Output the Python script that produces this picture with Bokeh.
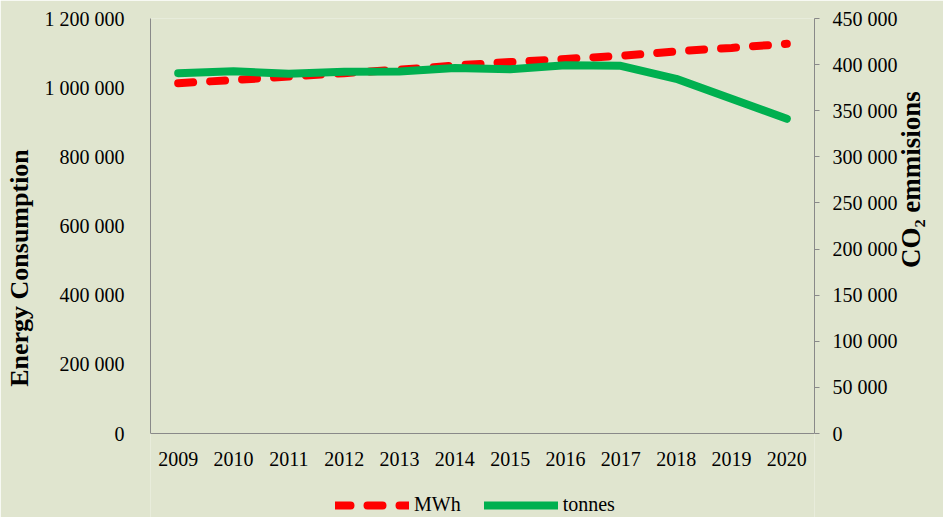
import math
from bokeh.plotting import figure
from bokeh.models import (Range1d, LinearAxis, FixedTicker, CustomJSTickFormatter,
                          Legend, LegendItem, ColumnDataSource, Span)
from bokeh.core.properties import value
from bokeh.embed import file_html
from bokeh.resources import INLINE

years = ["2009", "2010", "2011", "2012", "2013", "2014",
         "2015", "2016", "2017", "2018", "2019", "2020"]
mwh = [1013000, 1022000, 1032000, 1042000, 1052000, 1064000,
       1074000, 1083000, 1092000, 1105000, 1115000, 1127000]
tonnes = [390700, 392800, 390000, 392200, 392500, 396300,
          395000, 399300, 398700, 384600, 362900, 341200]
left_ticks = [0, 200000, 400000, 600000, 800000, 1000000, 1200000]
right_ticks = [0, 50000, 100000, 150000, 200000, 250000, 300000, 350000, 400000, 450000]

src = ColumnDataSource(dict(year=years, mwh=mwh, tonnes=tonnes))

BG = "#e0e5cf"
SERIF = "Liberation Serif"
AXC = "#898989"

# plot frame runs to the bottom edge so the legend can sit inside it;
# the value axes are bounded to their real ranges
LEFT_MAX = 1200000
RIGHT_MAX = 450000
EXT = 84.0 / 415.0  # room under the zero line, as a share of the value span

p = figure(width=943, height=517, x_range=years,
           y_range=Range1d(-LEFT_MAX * EXT, LEFT_MAX),
           x_axis_location=None,
           output_backend="svg", toolbar_location=None,
           min_border_left=150, min_border_right=126, min_border_top=18, min_border_bottom=0)
p.background_fill_color = BG
p.border_fill_color = BG
p.outline_line_color = None
p.xgrid.grid_line_color = None
p.ygrid.grid_line_color = None
p.extra_y_ranges = {"co2": Range1d(-RIGHT_MAX * EXT, RIGHT_MAX)}

fmt = CustomJSTickFormatter(code="return Math.round(tick).toString().replace(/\\B(?=(\\d{3})+(?!\\d))/g, ' ');")

# left axis
ya = p.yaxis[0]
ya.ticker = FixedTicker(ticks=left_ticks)
ya.bounds = (0, LEFT_MAX)
ya.formatter = fmt
ya.axis_label = "Energy Consumption"
ya.axis_label_text_font = SERIF
ya.axis_label_text_font_style = "bold"
ya.axis_label_text_font_size = "26px"
ya.axis_label_text_color = "black"
ya.axis_label_standoff = 8
ya.major_label_text_font = SERIF
ya.major_label_text_font_size = "20px"
ya.major_label_text_color = "black"
ya.major_tick_line_color = None
ya.minor_tick_line_color = None
ya.major_label_standoff = 20
ya.axis_line_color = AXC

# right axis
ra = LinearAxis(y_range_name="co2", ticker=FixedTicker(ticks=right_ticks), formatter=fmt,
                bounds=(0, RIGHT_MAX))
ra.axis_label = "CO\u2082 emmisions"
ra.axis_label_orientation = math.pi / 2
ra.axis_label_text_font = SERIF
ra.axis_label_text_font_style = "bold"
ra.axis_label_text_font_size = "27px"
ra.axis_label_text_color = "black"
ra.axis_label_standoff = 10
ra.major_label_text_font = SERIF
ra.major_label_text_font_size = "20px"
ra.major_label_text_color = "black"
ra.major_tick_line_color = AXC
ra.major_tick_in = 0
ra.major_tick_out = 5
ra.minor_tick_line_color = None
ra.major_label_standoff = 13
ra.axis_line_color = AXC
p.add_layout(ra, "right")

# category baseline and year labels
p.add_layout(Span(location=0, dimension="width", line_color=AXC, line_width=1))
p.text(x="year", y=0, text="year", source=src, y_offset=25,
       text_align="center", text_baseline="middle",
       text_font=value(SERIF), text_font_size="20px", text_color="black")

r1 = p.line("year", "mwh", source=src, line_color="#ff0000", line_width=8,
            line_dash="15 17", line_cap="round")
r2 = p.line("year", "tonnes", source=src, y_range_name="co2", line_color="#00b050",
            line_width=8, line_cap="round", line_join="round")

legend = Legend(items=[LegendItem(label="MWh", renderers=[r1]),
                       LegendItem(label="tonnes", renderers=[r2])],
                orientation="horizontal", location=(185, 1),
                background_fill_alpha=0, border_line_color=None,
                label_text_font=SERIF, label_text_font_size="20px",
                label_text_color="black", glyph_width=74, glyph_height=20,
                label_height=20, label_standoff=5, spacing=23, padding=0, margin=0)
p.add_layout(legend, "center")

open("out.html", "w").write(file_html(p, INLINE))
